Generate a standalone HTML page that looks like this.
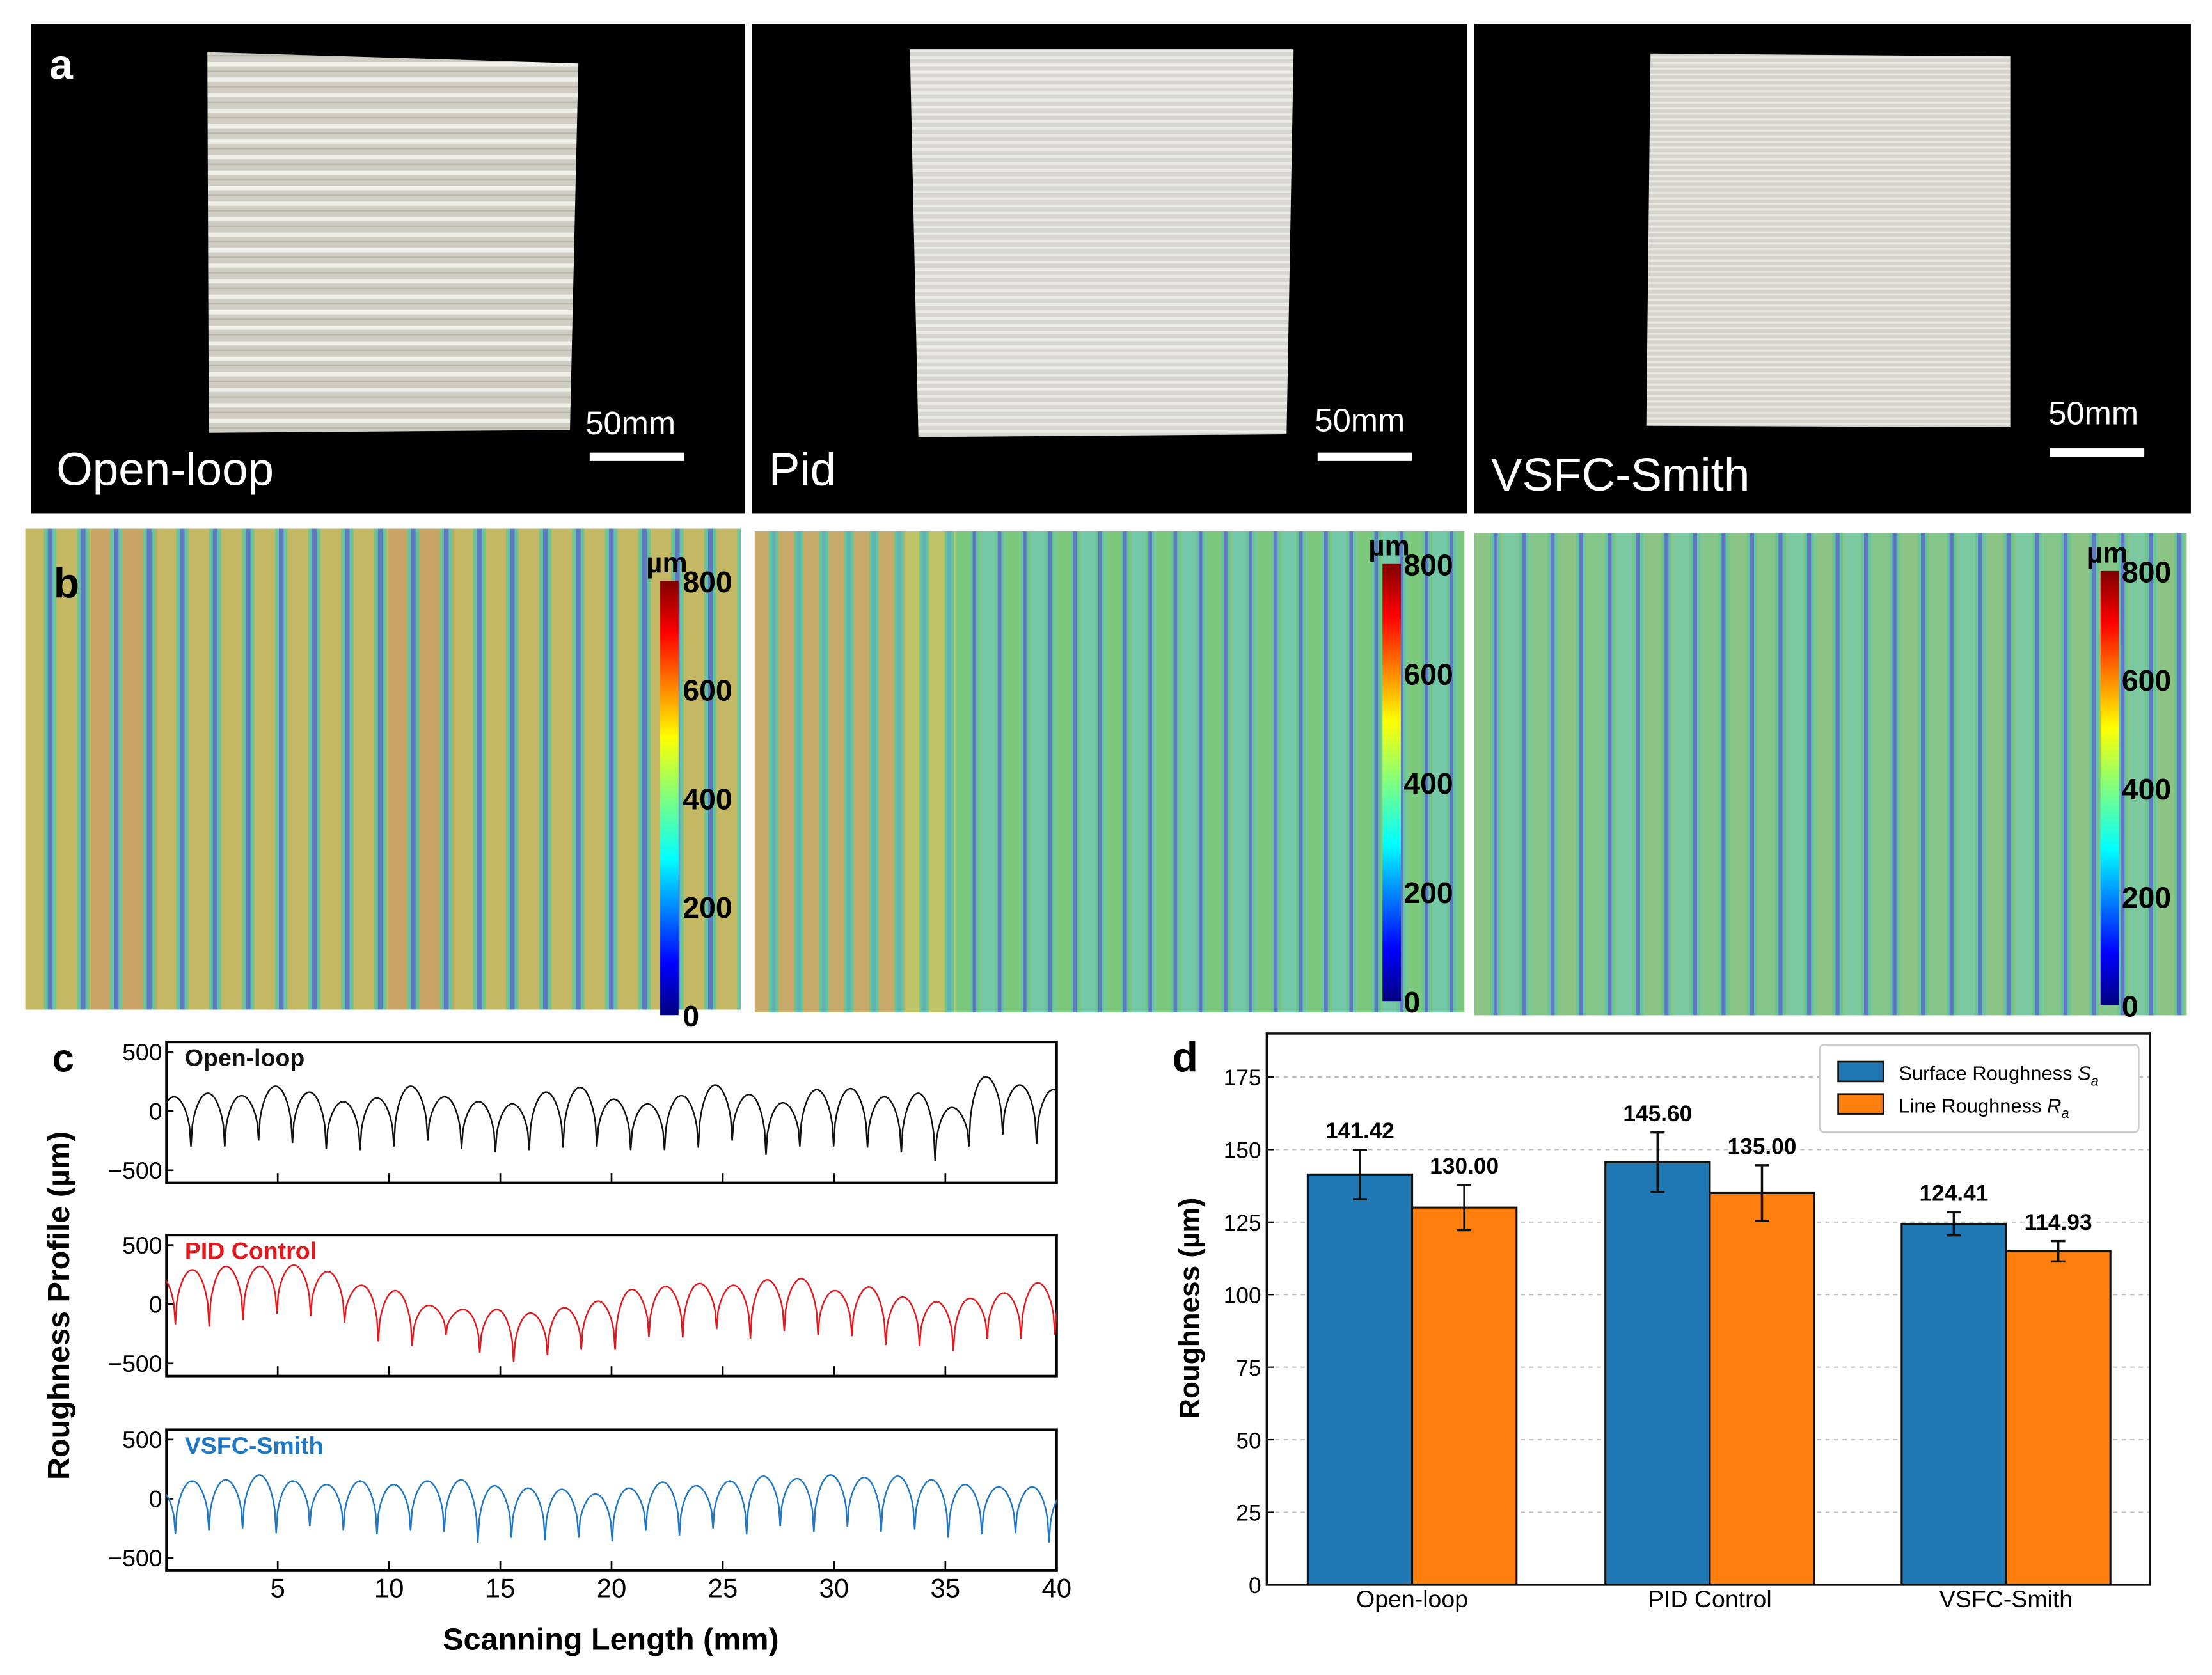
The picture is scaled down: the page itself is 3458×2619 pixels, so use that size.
<!DOCTYPE html>
<html><head><meta charset="utf-8">
<style>
html,body{margin:0;padding:0;background:#fff;}
svg{display:block;font-family:"Liberation Sans",Arial,sans-serif;}
</style></head>
<body>
<svg id="fig" width="3458" height="2619" viewBox="0 0 1568 1188" preserveAspectRatio="none" xmlns="http://www.w3.org/2000/svg">
<defs>
  <pattern id="layersA" patternUnits="userSpaceOnUse" width="10" height="11">
    <rect width="10" height="11" fill="#cfcdc4"/>
    <rect y="0" width="10" height="3" fill="#efefea"/>
    <rect y="6" width="10" height="1" fill="#b8b5aa"/>
  </pattern>
  <pattern id="layersB" patternUnits="userSpaceOnUse" width="10" height="5">
    <rect width="10" height="5" fill="#d6d5cf"/>
    <rect y="0" width="10" height="2" fill="#ebebe6"/>
  </pattern>
  <pattern id="layersC" patternUnits="userSpaceOnUse" width="10" height="4">
    <rect width="10" height="4" fill="#d4d2cb"/>
    <rect y="0" width="10" height="1.5" fill="#e8e7e2"/>
  </pattern>
  <linearGradient id="jet" x1="0" y1="1" x2="0" y2="0">
    <stop offset="0" stop-color="#00007f"/>
    <stop offset="0.12" stop-color="#0000ff"/>
    <stop offset="0.36" stop-color="#00ffff"/>
    <stop offset="0.5" stop-color="#7fff7f"/>
    <stop offset="0.64" stop-color="#ffff00"/>
    <stop offset="0.88" stop-color="#ff0000"/>
    <stop offset="1" stop-color="#7f0000"/>
  </linearGradient>
  <clipPath id="clipC1"><rect x="118" y="739" width="631" height="100"/></clipPath>
  <clipPath id="clipC2"><rect x="118" y="876" width="631" height="100"/></clipPath>
  <clipPath id="clipC3"><rect x="118" y="1014" width="631" height="100"/></clipPath>
</defs>

<!-- Panel a -->
<g>
  <rect x="22" y="17" width="506" height="347" fill="#000"/>
  <rect x="533" y="17" width="507" height="347" fill="#000"/>
  <rect x="1045" y="17" width="508" height="347" fill="#000"/>
  <path d="M147,37 L410,45 L404,305 L148,307 Z" fill="url(#layersA)"/>
  <path d="M645,35 L917,35 L912,308 L651,310 Z" fill="url(#layersB)"/>
  <path d="M1170,38 L1425,40 L1425,303 L1167,302 Z" fill="url(#layersC)"/>
  <text x="35" y="56" fill="#fff" font-size="30" font-weight="bold">a</text>
  <text x="415" y="308" fill="#fff" font-size="23">50mm</text>
  <rect x="418" y="321" width="67" height="6" fill="#fff"/>
  <text x="40" y="344" fill="#fff" font-size="33">Open-loop</text>
  <text x="932" y="306" fill="#fff" font-size="23">50mm</text>
  <rect x="934" y="321" width="67" height="6" fill="#fff"/>
  <text x="545" y="344" fill="#fff" font-size="33">Pid</text>
  <text x="1452" y="301" fill="#fff" font-size="23">50mm</text>
  <rect x="1453" y="318" width="67" height="6" fill="#fff"/>
  <text x="1057" y="348" fill="#fff" font-size="33">VSFC-Smith</text>
</g>

<!-- Panel b -->
<g id="panelB"></g>

<!-- Panel c -->
<g id="panelC">
  <text x="37" y="760" font-size="28" font-weight="bold">c</text>
  <text transform="translate(49,926) rotate(-90)" text-anchor="middle" font-size="22" font-weight="bold">Roughness Profile (µm)</text>
  <text x="433" y="1170" text-anchor="middle" font-size="22" font-weight="bold">Scanning Length (mm)</text>
</g>

<!-- Panel d -->
<g id="panelD">
  <text x="831" y="760" font-size="30" font-weight="bold">d</text>
  <text transform="translate(850,928) rotate(-90)" text-anchor="middle" font-size="20" font-weight="bold">Roughness (µm)</text>
</g>
</svg>

<script>
// ---------- Panel c data ----------
var profileNames = ["Open-loop", "PID Control", "VSFC-Smith"];
var profileColors = ["#111111", "#e0191e", "#1f77c4"];
var openTroughs = [-300,-300,-250,-270,-320,-330,-300,-250,-320,-350,-330,-310,-300,-330,-330,-310,-250,-370,-300,-300,-310,-350,-420,-300,-200,-280];
var openPeaks = [120,150,130,210,160,80,110,210,120,80,60,160,200,100,60,130,220,140,70,180,190,120,150,30,290,220,180];
var pidTroughs = [-170,-190,-135,-80,-100,-155,-315,-355,-260,-410,-490,-430,-385,-385,-280,-280,-210,-290,-225,-260,-270,-345,-355,-395,-295,-295,-260];
var pidPeaks = [250,290,320,320,330,275,160,115,-10,-45,-45,-75,-30,25,125,150,175,160,205,215,115,145,60,20,50,95,180,170];
var vsfcTroughs = [-300,-270,-250,-290,-230,-270,-300,-270,-280,-370,-330,-350,-330,-360,-270,-310,-250,-300,-230,-280,-240,-280,-260,-330,-300,-290,-370];
var vsfcPeaks = [80,150,160,200,150,120,150,120,150,160,110,90,80,40,90,140,110,150,190,170,200,180,190,160,120,100,100,60];
var firstTroughMM = [1.1, 0.4, 0.4];
var periodMM = [1.52, 1.52, 1.51];
var xTicks = [5,10,15,20,25,30,35,40];
var yTicksC = [500,0,-500];

// ---------- Panel d data ----------
var groups = ["Open-loop", "PID Control", "VSFC-Smith"];
var surfaceSa = [141.42, 145.60, 124.41];
var lineRa = [130.00, 135.00, 114.93];
var saErr = [8.5, 10.3, 4.0];
var raErr = [7.8, 9.6, 3.5];
var yTicksD = [0,25,50,75,100,125,150,175];

var NS = "http://www.w3.org/2000/svg";
function mk(tag, attrs, parent){
  var e = document.createElementNS(NS, tag);
  for (var k in attrs) e.setAttribute(k, attrs[k]);
  parent.appendChild(e);
  return e;
}

// ---------- Panel b (decorative heatmaps) ----------
(function(){
  var g = document.getElementById("panelB");
  var panels = [
    {x:18,y:375,w:507,h:341,p:23.4,cb:[468,412,13,308],lab:484},
    {x:535,y:377,w:503,h:341,p:17.8,cb:[980,400,13,310],lab:995},
    {x:1045,y:378,w:505,h:342,p:20.2,cb:[1489,405,13,308],lab:1504}
  ];
  panels.forEach(function(P, pi){
    var bg = mk("rect",{x:P.x,y:P.y,width:P.w,height:P.h,fill:"#7cc27a"},g);
    
    
    var n = Math.ceil(P.w / P.p);
    for (var i=0;i<n;i++){
      var sx = P.x + i*P.p;
      var rel = (sx - P.x)/P.w;
      var fill;
      if (pi===0){ fill = (i===2||i===11||i===12||i===3) ? "#c9a466" : "#c4b865"; }
      else if (pi===1){ fill = rel<0.2 ? "#c8ab6a" : (rel<0.26 ? "#c0c468" : (i%2 ? "#72c8a8" : "#7cc87c")); }
      else { fill = (i%3===0) ? "#8cc486" : (i%2 ? "#7cc8a0" : "#84c68a"); }
      var w = Math.min(P.p, P.x+P.w-sx);
      var s = mk("rect",{x:sx,y:P.y,width:w,height:P.h,fill:fill},g);
      
      
      if (sx+P.p*0.56 < P.x+P.w){
        mk("rect",{x:sx+P.p*0.56,y:P.y,width:Math.min(P.p*0.38, P.x+P.w-sx-P.p*0.56),height:P.h,fill:"#74c48a"},g);
      }
      if (sx+P.p*0.62 < P.x+P.w){
        mk("rect",{x:sx+P.p*0.62,y:P.y,width:Math.min(P.p*0.26, P.x+P.w-sx-P.p*0.62),height:P.h,fill:"#62c0ac"},g);
      }
      if (sx+P.p*0.68 < P.x+P.w){
        var bl = mk("rect",{x:sx+P.p*0.68,y:P.y,width:Math.min(P.p*0.14,P.x+P.w-sx-P.p*0.68),height:P.h,fill:pi===1&&rel<0.25?"#5fb3b0":"#6078bf"},g);
        
        
      }
    }
    var cb = mk("rect",{x:P.cb[0],y:P.cb[1],width:P.cb[2],height:P.cb[3],fill:"url(#jet)"},g);
    
    
    var um = mk("text",{x:P.cb[0]-10,y:P.cb[1]-6,"font-size":20,"font-weight":"bold"},g);
    um.textContent = "µm";
    
    
    [800,600,400,200,0].forEach(function(v, k){
      var t = mk("text",{x:P.lab,y:P.cb[1]+8+(P.cb[3])*(k/4),"font-size":21,"font-weight":"bold"},g);
      t.textContent = v;
      
      
    });
  });
  var lb = mk("text",{x:38,y:424,"font-size":30,"font-weight":"bold"},g);
  lb.textContent = "b";
  
  
})();

// ---------- Panel c ----------
(function(){
  var g = document.getElementById("panelC");
  var X0 = 118, X1 = 749;
  function xs(mm){ return X0 + (X1-X0)*mm/40; }
  var tops = [739, 876, 1014];
  var troughSets = [openTroughs, pidTroughs, vsfcTroughs];
  var peakSets = [openPeaks, pidPeaks, vsfcPeaks];
  for (var s=0; s<3; s++){
    var top = tops[s];
    function ys(v){ return top + 49 - v*42/500; }
    var box = mk("rect",{x:X0,y:top,width:X1-X0,height:100,fill:"none",stroke:"#000","stroke-width":1.8},g);
    
    
    yTicksC.forEach(function(v){
      mk("line",{x1:X0,x2:X0+5,y1:ys(v),y2:ys(v),stroke:"#000","stroke-width":1.2},g);
      var t = mk("text",{x:X0-3,y:ys(v)+6,"text-anchor":"end","font-size":17},g);
      t.textContent = v===-500 ? "−500" : v;
      
      
    });
    xTicks.forEach(function(v){
      mk("line",{x1:xs(v),x2:xs(v),y1:top+100,y2:top+93,stroke:"#000","stroke-width":1.2},g);
    });
    var tr = troughSets[s], pk = peakSets[s];
    var pts = [];
    var f0 = firstTroughMM[s], per = periodMM[s];
    for (var c=0; c<=tr.length; c++){
      var a = f0 + (c-1)*per, b = f0 + c*per;
      var ta = tr[Math.max(0,c-1)], tb = tr[Math.min(tr.length-1,c)];
      var p = pk[c];
      for (var k=0;k<=24;k++){
        var t = k/24;
        var base = ta + (tb-ta)*t;
        var sh = Math.pow(Math.sin(Math.PI*t),0.45);
        var v = base + (p - base)*sh;
        var xm = a + (b-a)*t;
        pts.push(xs(xm).toFixed(2)+","+ys(v).toFixed(2));
      }
    }
    var line = mk("polyline",{points:pts.join(" "),fill:"none",stroke:profileColors[s],"stroke-width":1.1,"clip-path":"url(#clipC"+(s+1)+")"},g);
    
    
    var nm = mk("text",{x:131,y:top+17,"font-size":17,"font-weight":"bold",fill:profileColors[s]},g);
    nm.textContent = profileNames[s];
    
    
  }
  xTicks.forEach(function(v){
    var t = mk("text",{x:xs(v),y:1133,"text-anchor":"middle","font-size":19},g);
    t.textContent = v;
    
    
  });
})();

// ---------- Panel d ----------
(function(){
  var g = document.getElementById("panelD");
  var L=898, R=1524, T=733, B=1124;
  function ys(v){ return B - v*(B-T)/190; }
  var centers = [1001, 1212, 1422];
  var bw = 74;
  yTicksD.forEach(function(v){
    if (v>0){
      var gl = mk("line",{x1:L,x2:R,y1:ys(v),y2:ys(v),stroke:"#bbb","stroke-width":0.9,"stroke-dasharray":"3,3"},g);
      
      
    }
    mk("line",{x1:L,x2:L+5,y1:ys(v),y2:ys(v),stroke:"#000","stroke-width":1},g);
    var t = mk("text",{x:L-4,y:ys(v)+6,"text-anchor":"end","font-size":16},g);
    t.textContent = v;
    
    
  });
  function bar(x, v, e, color, label, name){
    var r = mk("rect",{x:x,y:ys(v),width:bw,height:B-ys(v),fill:color,stroke:"#111","stroke-width":1.4},g);
    
    
    var cx = x + bw/2;
    mk("line",{x1:cx,x2:cx,y1:ys(v+e),y2:ys(v-e),stroke:"#111","stroke-width":1.6},g);
    mk("line",{x1:cx-5,x2:cx+5,y1:ys(v+e),y2:ys(v+e),stroke:"#111","stroke-width":1.6},g);
    mk("line",{x1:cx-5,x2:cx+5,y1:ys(v-e),y2:ys(v-e),stroke:"#111","stroke-width":1.6},g);
    var t = mk("text",{x:cx,y:ys(v+e)-8,"text-anchor":"middle","font-size":16,"font-weight":"bold"},g);
    t.textContent = label;
    
    
  }
  for (var i=0;i<groups.length;i++){
    bar(centers[i]-bw, surfaceSa[i], saErr[i], "#1f77b4", surfaceSa[i].toFixed(2), 'bar-sa-' + (i+1));
    bar(centers[i], lineRa[i], raErr[i], "#ff7f0e", lineRa[i].toFixed(2), 'bar-ra-' + (i+1));
    var t = mk("text",{x:centers[i],y:1140,"text-anchor":"middle","font-size":17},g);
    t.textContent = groups[i];
    
    
  }
  var ax = mk("rect",{x:L,y:T,width:R-L,height:B-T,fill:"none",stroke:"#111","stroke-width":1.6},g);
  
  
  var lg = mk("rect",{x:1290,y:741,width:226,height:62,fill:"#fff",stroke:"#ccc","stroke-width":1.2,rx:3},g);
  
  
  var s1 = mk("rect",{x:1303,y:753,width:32,height:14,fill:"#1f77b4",stroke:"#111","stroke-width":1.2},g);
  
  
  var s2 = mk("rect",{x:1303,y:776,width:32,height:14,fill:"#ff7f0e",stroke:"#111","stroke-width":1.2},g);
  
  
  var l1 = mk("text",{x:1346,y:766,"font-size":14},g);
  l1.innerHTML = 'Surface Roughness <tspan font-style="italic">S</tspan><tspan font-style="italic" font-size="10" dy="4">a</tspan>';
  
  
  var l2 = mk("text",{x:1346,y:789,"font-size":14},g);
  l2.innerHTML = 'Line Roughness <tspan font-style="italic">R</tspan><tspan font-style="italic" font-size="10" dy="4">a</tspan>';
  
  
})();
</script>
</body></html>
